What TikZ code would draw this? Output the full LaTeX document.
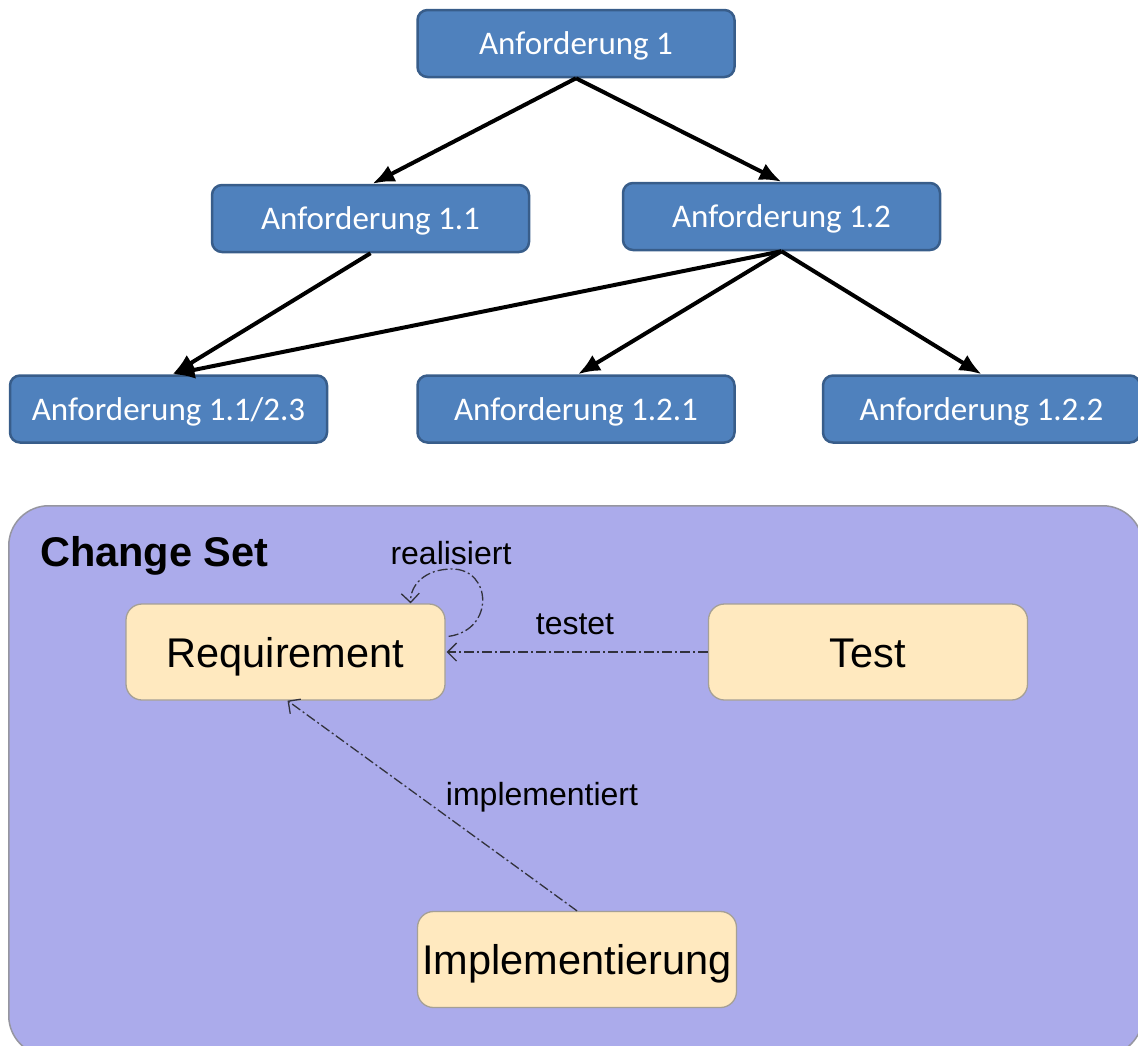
\documentclass[tikz,border=0pt]{standalone}
\usepackage{fontspec}
\setmainfont{Liberation Sans}
\newfontfamily\boxfont{Carlito}
\usetikzlibrary{arrows.meta}
\definecolor{reqblue}{RGB}{79,129,189}
\definecolor{reqblueline}{RGB}{56,93,138}
\definecolor{setfill}{RGB}{171,171,235}
\definecolor{setline}{RGB}{150,150,160}
\definecolor{itemfill}{RGB}{255,233,191}
\definecolor{itemline}{RGB}{165,160,150}
\definecolor{relline}{RGB}{50,50,60}
\tikzset{
  reqbox/.style={draw=reqblueline, fill=reqblue, line width=2.5pt, rounded corners=10pt,
    minimum width=317pt, minimum height=67pt, inner sep=0pt, text=white,
    text height=22pt, text depth=0pt,
    font=\boxfont\fontsize{33}{40}\selectfont},
  itembox/.style={draw=itemline, fill=itemfill, line width=1.3pt, rounded corners=16pt,
    minimum width=319pt, minimum height=96pt, inner sep=0pt,
    text height=30pt, text depth=0pt,
    font=\fontsize{41.5}{48}\selectfont},
  refine/.style={line width=4pt, -{Latex[length=22pt,width=18pt]}},
  relation/.style={draw=relline, line width=1.3pt,
    dash pattern=on 10pt off 3pt on 2pt off 3pt,
    -{Straight Barb[length=9pt,width=18pt]}},
  rellabel/.style={font=\fontsize{32}{38}\selectfont, inner sep=0pt}
}
\begin{document}
\begin{tikzpicture}[x=1pt, y=-1pt]
\useasboundingbox (0,0) rectangle (1138,1045);
\clip (0,0) rectangle (1138,1045);

% requirement hierarchy
\node[reqbox] (a1)   at (576,43.5)  {Anforderung 1};
\node[reqbox] (a11)  at (370.5,218.5) {Anforderung 1.1};
\node[reqbox] (a12)  at (781.5,216.5) {Anforderung 1.2};
\node[reqbox] (a113) at (168.5,409) {Anforderung 1.1/2.3};
\node[reqbox] (a121) at (576,409)   {Anforderung 1.2.1};
\node[reqbox] (a122) at (981.5,409) {Anforderung 1.2.2};

\draw[refine] (a1.south) -- ([xshift=2pt]a11.north);
\draw[refine] (a1.south) -- (a12.north);
\draw[refine] (a11.south) -- ([xshift=4pt]a113.north);
\draw[refine] (a12.south) -- ([xshift=4pt]a113.north);
\draw[refine] (a12.south) -- ([xshift=2pt]a121.north);
\draw[refine] (a12.south) -- (a122.north);

% change set container
\node[draw=setline, fill=setfill, line width=1.5pt, rounded corners=40pt,
      minimum width=1134pt, minimum height=550pt, inner sep=0pt, anchor=north west]
      (cs) at (8,505) {};
\node[anchor=base west, inner sep=0pt, font=\bfseries\fontsize{41.5}{48}\selectfont]
      (cstitle) at (40,566) {Change Set};

\node[itembox] (req)  at (285.5,652) {Requirement};
\node[itembox] (test) at (868,652)   {Test};
\node[itembox] (impl) at (577,959.5) {Implementierung};

% relations
\draw[relation] (test.west) -- ([xshift=1pt]req.east);
\node[rellabel] (ltest) at (575,624) {testet};
\draw[relation] (impl.north) -- ([xshift=2pt]req.south);
\node[rellabel] (limpl) at (542,797) {implementiert};

\coordinate (loopstart) at ([xshift=3pt,yshift=-33pt]req.north east);
\coordinate (looptop) at (452,569);
\coordinate (loopend) at ([xshift=-35pt]req.north east);
\draw[relation] (loopstart) .. controls (495,630) and (492,569) .. (looptop)
  .. controls (425,569) and (410,585) .. (loopend);
\node[rellabel] (lreal) at (451,553) {realisiert};
\end{tikzpicture}
\end{document}
